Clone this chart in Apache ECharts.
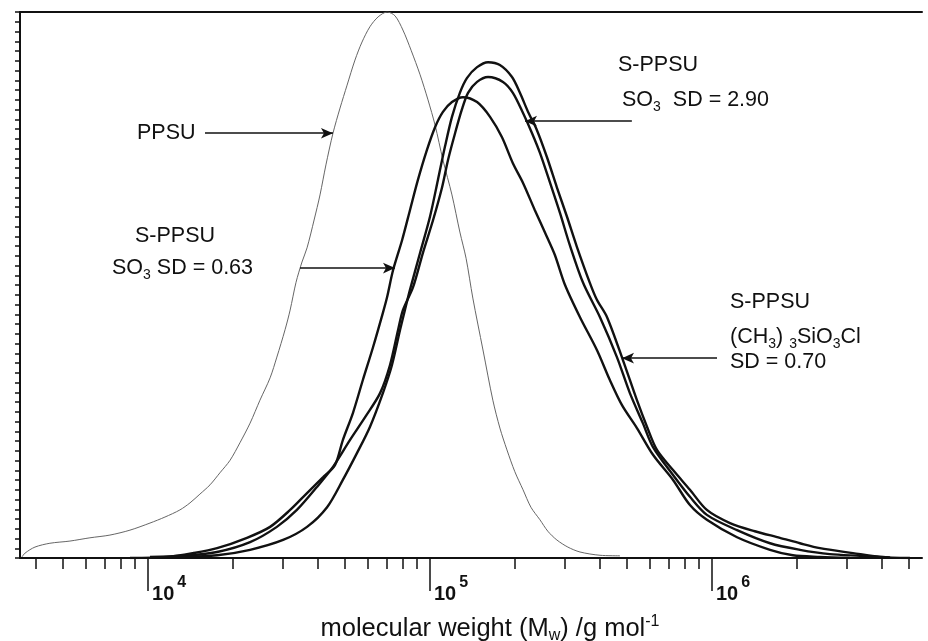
<!DOCTYPE html>
<html>
<head>
<meta charset="utf-8">
<script src="https://cdn.jsdelivr.net/npm/echarts@6/dist/echarts.min.js"></script>
<style>
  html, body { margin: 0; padding: 0; background: #fff; }
  #chart { width: 928px; height: 641px; }
</style>
</head>
<body>
<div id="chart"></div>
<script>
  // x = log10(Mw / g mol-1), y = detector signal normalised to the PPSU peak
  var ppsuLogM = [3.553, 3.564, 3.599, 3.652, 3.723, 3.794, 3.865, 3.936, 4.007, 4.060, 4.113, 4.149, 4.184, 4.220, 4.255, 4.291, 4.326, 4.362, 4.397, 4.433, 4.457, 4.486, 4.504, 4.525, 4.546, 4.564, 4.589, 4.610, 4.631, 4.656, 4.681, 4.706, 4.734, 4.759, 4.787, 4.816, 4.848, 4.876, 4.904, 4.933, 4.965, 4.993, 5.018, 5.046, 5.078, 5.106, 5.128, 5.152, 5.188, 5.223, 5.248, 5.273, 5.301, 5.330, 5.358, 5.390, 5.418, 5.450, 5.489, 5.532, 5.603, 5.674];
  var ppsuSignal = [0.002, 0.009, 0.020, 0.027, 0.031, 0.037, 0.042, 0.051, 0.064, 0.075, 0.088, 0.101, 0.117, 0.134, 0.156, 0.179, 0.211, 0.247, 0.289, 0.330, 0.368, 0.418, 0.454, 0.505, 0.542, 0.568, 0.619, 0.665, 0.720, 0.778, 0.824, 0.866, 0.912, 0.945, 0.973, 0.991, 1.000, 0.993, 0.967, 0.930, 0.885, 0.839, 0.793, 0.729, 0.665, 0.597, 0.549, 0.476, 0.381, 0.289, 0.238, 0.198, 0.158, 0.125, 0.093, 0.070, 0.049, 0.033, 0.020, 0.011, 0.005, 0.004];

  // S-PPSU, (CH3)3SiO3Cl, SD = 0.70
  var silLogM = [4.124, 4.245, 4.362, 4.479, 4.564, 4.635, 4.691, 4.741, 4.787, 4.833, 4.865, 4.894, 4.911, 4.929, 4.965, 5.000, 5.028, 5.053, 5.078, 5.106, 5.131, 5.167, 5.206, 5.248, 5.291, 5.319, 5.348, 5.379, 5.415, 5.450, 5.486, 5.521, 5.567, 5.592, 5.628, 5.684, 5.734, 5.770, 5.805, 5.862, 5.922, 5.982, 6.064, 6.152, 6.241, 6.312, 6.383, 6.500, 6.596, 6.702];
  var silSignal = [0.002, 0.005, 0.015, 0.033, 0.057, 0.093, 0.143, 0.192, 0.240, 0.302, 0.353, 0.418, 0.454, 0.491, 0.559, 0.625, 0.692, 0.753, 0.808, 0.852, 0.879, 0.899, 0.908, 0.903, 0.881, 0.852, 0.817, 0.784, 0.734, 0.679, 0.625, 0.570, 0.504, 0.473, 0.441, 0.363, 0.289, 0.240, 0.198, 0.161, 0.125, 0.088, 0.064, 0.049, 0.037, 0.027, 0.018, 0.009, 0.002, 0.000];

  // S-PPSU, SO3, SD = 2.90
  var so3HighLogM = [4.007, 4.124, 4.245, 4.362, 4.457, 4.528, 4.599, 4.656, 4.716, 4.770, 4.823, 4.858, 4.887, 4.904, 4.940, 4.975, 5.011, 5.043, 5.064, 5.089, 5.113, 5.135, 5.167, 5.206, 5.259, 5.294, 5.330, 5.362, 5.390, 5.426, 5.461, 5.496, 5.543, 5.603, 5.663, 5.709, 5.755, 5.791, 5.862, 5.922, 5.982, 6.089, 6.206, 6.312, 6.418, 6.525, 6.631];
  var so3HighSignal = [0.002, 0.004, 0.011, 0.029, 0.057, 0.088, 0.130, 0.167, 0.216, 0.258, 0.302, 0.353, 0.418, 0.454, 0.496, 0.559, 0.619, 0.679, 0.729, 0.778, 0.821, 0.852, 0.872, 0.881, 0.872, 0.852, 0.815, 0.778, 0.742, 0.687, 0.632, 0.573, 0.504, 0.441, 0.368, 0.302, 0.247, 0.203, 0.152, 0.112, 0.079, 0.051, 0.027, 0.015, 0.007, 0.004, 0.001];

  // S-PPSU, SO3, SD = 0.63
  var so3LowLogM = [3.936, 4.067, 4.160, 4.245, 4.351, 4.433, 4.504, 4.564, 4.621, 4.663, 4.691, 4.727, 4.762, 4.798, 4.833, 4.848, 4.869, 4.901, 4.929, 4.957, 4.989, 5.018, 5.046, 5.078, 5.117, 5.167, 5.213, 5.255, 5.294, 5.330, 5.372, 5.415, 5.443, 5.479, 5.532, 5.592, 5.638, 5.681, 5.734, 5.791, 5.862, 5.922, 5.982, 6.089, 6.206, 6.287, 6.383, 6.489];
  var so3LowSignal = [0.000, 0.002, 0.009, 0.018, 0.037, 0.057, 0.088, 0.119, 0.148, 0.170, 0.216, 0.266, 0.326, 0.386, 0.449, 0.478, 0.527, 0.582, 0.637, 0.692, 0.747, 0.789, 0.817, 0.835, 0.844, 0.835, 0.808, 0.771, 0.723, 0.687, 0.637, 0.588, 0.555, 0.500, 0.441, 0.381, 0.326, 0.280, 0.238, 0.189, 0.143, 0.097, 0.070, 0.038, 0.015, 0.005, 0.002, 0.000];

  // axis
  var logMin = 3.546, logMax = 6.745;
  var decades = [4, 5, 6];
  var minorMultipliers = [2, 3, 4, 5, 6, 7, 8, 9];
  var yTickCount = 56;

  // arrows: [tail logM, tail y, tip logM, tip y]
  var arrowPPSU = [4.202, 0.778, 4.656, 0.778];
  var arrowSo3Low = [4.539, 0.531, 4.876, 0.531];
  var arrowSo3High = [5.716, 0.800, 5.337, 0.800];
  var arrowSil = [6.018, 0.366, 5.681, 0.366];

  var FONT = '"Liberation Sans", Arial, sans-serif';

  function pairs(xs, ys) {
    return xs.map(function (x, i) { return [x, ys[i]]; });
  }

  var minorTicks = [];
  [3, 4, 5, 6].forEach(function (d) {
    minorMultipliers.forEach(function (k) {
      var v = d + Math.log10(k);
      if (v > logMin && v < logMax) minorTicks.push(v);
    });
  });
  var yTicks = [];
  for (var i = 0; i <= yTickCount; i++) yTicks.push(i / yTickCount);

  function arrow(a) {
    return {
      silent: true,
      symbol: ['none', 'arrow'],
      symbolSize: [8, 12],
      label: { show: false },
      lineStyle: { color: '#111', width: 1.6, type: 'solid' },
      data: [[{ coord: [a[0], a[1]] }, { coord: [a[2], a[3]] }]]
    };
  }

  var txt = {
    n: { fontSize: 21.5, fontFamily: FONT, color: '#111', lineHeight: 28 },
    sub: { fontSize: 14, fontFamily: FONT, color: '#111', lineHeight: 28, verticalAlign: 'bottom' }
  };
  function label(x, y, text) {
    return {
      type: 'text', x: x, y: y, silent: true,
      style: { text: text, rich: txt, fontSize: 21.5, fontFamily: FONT, fill: '#111', align: 'left', verticalAlign: 'middle' }
    };
  }

  var chart = echarts.init(document.getElementById('chart'));

  var lineBase = { type: 'line', showSymbol: false, smooth: 0.3, animation: false, silent: true };

  chart.setOption({
    backgroundColor: '#fff',
    animation: false,
    grid: { left: 20, right: 6, top: 12, bottom: 83, outerBoundsMode: 'none' },
    xAxis: [
      {
        type: 'value', position: 'bottom', min: logMin, max: logMax,
        axisLine: { show: true, lineStyle: { color: '#111', width: 2 } },
        axisTick: { show: true, customValues: minorTicks, length: 11, lineStyle: { color: '#111', width: 1.5 } },
        axisLabel: { show: false },
        splitLine: { show: false },
        name: '{n|molecular weight (M}{sub|w}{n|) /g mol}{sup|-1}',
        nameLocation: 'middle',
        nameGap: 56,
        nameTextStyle: {
          padding: [0, 0, 0, 38],
          rich: {
            n: { fontSize: 25.5, fontFamily: FONT, color: '#111', lineHeight: 30 },
            sub: { fontSize: 16, fontFamily: FONT, color: '#111', lineHeight: 30, verticalAlign: 'bottom' },
            sup: { fontSize: 16, fontFamily: FONT, color: '#111', lineHeight: 30, verticalAlign: 'top' }
          }
        }
      },
      {
        type: 'value', position: 'bottom', min: logMin, max: logMax,
        axisLine: { show: false },
        axisTick: { show: true, customValues: decades, length: 33, lineStyle: { color: '#111', width: 1.5 } },
        axisLabel: {
          show: true, customValues: decades, margin: 17, align: 'left', padding: [0, 0, 0, 4],
          formatter: function (v) { return '{b|10}{s|' + Math.round(v) + '}'; },
          rich: {
            b: { fontSize: 20, fontWeight: 'bold', fontFamily: FONT, color: '#111', lineHeight: 29, verticalAlign: 'bottom' },
            s: { fontSize: 16, fontWeight: 'bold', fontFamily: FONT, color: '#111', lineHeight: 29, verticalAlign: 'top', padding: [0, 0, 0, 3] }
          }
        },
        splitLine: { show: false }
      },
      {
        type: 'value', position: 'top', min: logMin, max: logMax,
        axisLine: { show: true, lineStyle: { color: '#111', width: 2 } },
        axisTick: { show: false }, axisLabel: { show: false }, splitLine: { show: false }
      }
    ],
    yAxis: {
      type: 'value', min: 0, max: 1,
      axisLine: { show: true, lineStyle: { color: '#111', width: 2 } },
      axisTick: { show: true, customValues: yTicks, length: 5, lineStyle: { color: '#111', width: 1.5 } },
      axisLabel: { show: false },
      splitLine: { show: false }
    },
    series: [
      Object.assign({}, lineBase, {
        name: 'PPSU', data: pairs(ppsuLogM, ppsuSignal),
        lineStyle: { color: '#666', width: 1 }, markLine: arrow(arrowPPSU)
      }),
      Object.assign({}, lineBase, {
        name: 'S-PPSU SO3 SD = 0.63', data: pairs(so3LowLogM, so3LowSignal),
        lineStyle: { color: '#111', width: 2.4 }, markLine: arrow(arrowSo3Low)
      }),
      Object.assign({}, lineBase, {
        name: 'S-PPSU SO3 SD = 2.90', data: pairs(so3HighLogM, so3HighSignal),
        lineStyle: { color: '#111', width: 2.4 }, markLine: arrow(arrowSo3High)
      }),
      Object.assign({}, lineBase, {
        name: 'S-PPSU (CH3)3SiO3Cl SD = 0.70', data: pairs(silLogM, silSignal),
        lineStyle: { color: '#111', width: 2.4 }, markLine: arrow(arrowSil)
      })
    ],
    graphic: [
      label(137, 133, '{n|PPSU}'),
      label(135, 236, '{n|S-PPSU}'),
      label(112, 268, '{n|SO}{sub|3}{n| SD = 0.63}'),
      label(618, 65, '{n|S-PPSU}'),
      label(622, 100, '{n|SO}{sub|3}{n|  SD = 2.90}'),
      label(730, 302, '{n|S-PPSU}'),
      label(730, 337, '{n|(CH}{sub|3}{n|) }{sub|3}{n|SiO}{sub|3}{n|Cl}'),
      label(730, 362, '{n|SD = 0.70}')
    ]
  });
</script>
</body>
</html>
